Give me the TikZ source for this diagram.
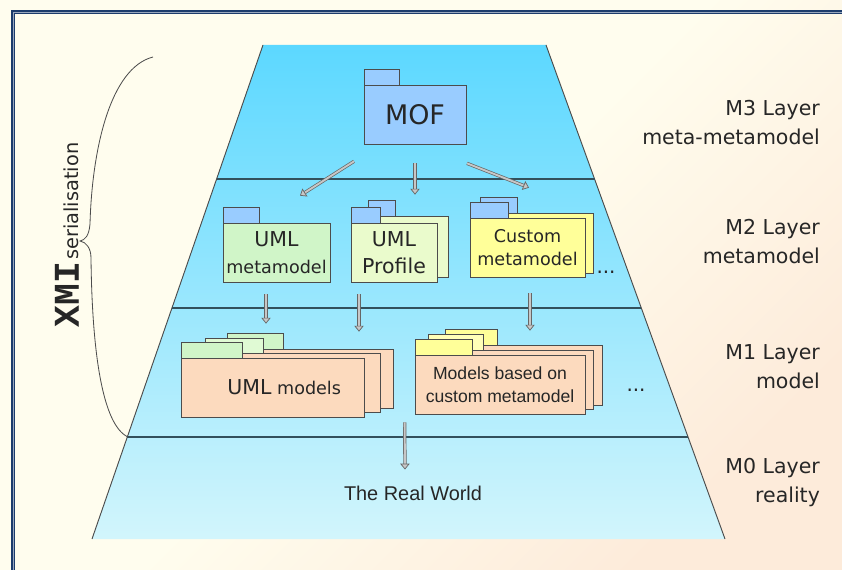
\documentclass[tikz,border=0pt]{standalone}
\usepackage{fontspec}
\setmainfont{DejaVu Sans}
\newfontfamily\arialfont{Liberation Sans}
\newfontfamily\xmifont{Liberation Mono}
\usetikzlibrary{calc, arrows.meta}

\definecolor{cream}{RGB}{255,253,238}
\definecolor{peach}{RGB}{253,235,218}
\definecolor{framenavy}{RGB}{28,60,108}
\definecolor{skytop}{RGB}{92,216,255}
\definecolor{skybot}{RGB}{210,245,252}
\definecolor{tabblue}{RGB}{153,204,255}
\definecolor{mmgreen}{RGB}{208,245,200}
\definecolor{lightgreen}{RGB}{224,250,212}
\definecolor{profgreen}{RGB}{234,251,204}
\definecolor{custyellow}{RGB}{255,255,153}
\definecolor{modpeach}{RGB}{252,218,190}
\definecolor{sepgray}{RGB}{50,80,92}

\tikzset{
	pkg/.style 2 args={draw=black!70, line width=0.6pt, minimum width=#1*0.03cm, minimum height=#2*0.03cm, inner sep=0pt, align=center, text=black!85},
	pkgtab/.style={draw=black!70, line width=0.6pt, fill=tabblue},
	sheet/.style={draw=black!70, line width=0.6pt},
	layername/.style={anchor=east, align=right, text=black!85, font=\fontsize{17.5}{24.7}\selectfont},
	flow/.style={draw=black!60, double=black!22, double distance=1.6pt, line width=0.6pt, -{Triangle[length=5pt, width=8pt, fill=black!22]}},
	edge/.style={draw=black!70, line width=0.8pt},
	sep/.style={draw=sepgray, line width=0.9pt}
}

\begin{document}
\begin{tikzpicture}[x=0.03cm, y=-0.03cm]
	\useasboundingbox (0,0) rectangle (842,570);
	\shade[top color=cream, bottom color=peach, middle color=cream, shading angle=45] (0,0) rectangle (842,570);
	
	% frame
	\draw[framenavy, line width=3.4pt] (13,570) -- (13,12) -- (842,12);
	\draw[framenavy!45, line width=0.6pt] (13,570) -- (13,12) -- (842,12);
	
	% pyramid of layers
	\coordinate (tl) at (263,45);
	\coordinate (tr) at (546,45);
	\coordinate (br) at (725,539);
	\coordinate (bl) at (92,539);
	\shade[top color=skytop, bottom color=skybot] (tl) -- (tr) -- (br) -- (bl) -- cycle;
	\draw[edge] (tl) -- (bl);
	\draw[edge] (tr) -- (br);
	\draw[sep] ($(tl)!0.2713!(bl)$) -- ($(tr)!0.2713!(br)$);
	\draw[sep] ($(tl)!0.5324!(bl)$) -- ($(tr)!0.5324!(br)$);
	\draw[sep] ($(tl)!0.7935!(bl)$) -- ($(tr)!0.7935!(br)$);
	
	% brace
	\draw[black!70, line width=0.7pt] (153,57) .. controls (110,68) and (92,150) .. (90,224) .. controls (89,236) and (85,240) .. (80,241) .. controls (86,242) and (91,248) .. (91,258) .. controls (92,350) and (102,425) .. (128,437);
	\node[rotate=90, text=black!85] (xmi) at (67,235) {{\xmifont\bfseries\fontsize{31}{33}\selectfont XMI}\hspace{2pt}{\fontsize{16.5}{20}\selectfont serialisation}};
	
	% M3
	\filldraw[pkgtab] (364,69) rectangle (399,85);
	\node[pkg={102}{59}, fill=tabblue, font=\fontsize{23}{26}\selectfont] (mof) at (415,114.5) {MOF};
	
	% M2
	\filldraw[pkgtab] (223,207) rectangle (259,223);
	\node[pkg={107}{59}, fill=mmgreen, font=\fontsize{15}{23}\selectfont] (umlmm) at (276.5,252.5) {{\fontsize{17.5}{23}\selectfont UML}\\metamodel};
	
	\filldraw[pkgtab] (368,200) rectangle (395,216);
	\filldraw[sheet, fill=profgreen] (362,216) rectangle (448,277);
	\filldraw[pkgtab] (351,207) rectangle (380,223);
	\node[pkg={86}{59}, fill=profgreen, font=\fontsize{17.5}{23}\selectfont] (umlprof) at (394,252.5) {UML\\Profile};
	
	\filldraw[pkgtab] (480,197) rectangle (517,213);
	\filldraw[sheet, fill=custyellow] (478,213) rectangle (593,273);
	\filldraw[pkgtab] (470,202) rectangle (508,218);
	\node[pkg={115}{59}, fill=custyellow, font=\fontsize{15}{20}\selectfont] (custmm) at (527.5,247.5) {Custom\\metamodel};
	\node[text=black!85, font=\fontsize{17}{20}\selectfont] (moremm) at (606,272) {...};
	
	% M1
	\filldraw[pkgtab, fill=mmgreen] (227,333) rectangle (283,349);
	\filldraw[sheet, fill=modpeach] (211,349) rectangle (393,408);
	\filldraw[pkgtab, fill=lightgreen] (205,338) rectangle (263,353);
	\filldraw[sheet, fill=modpeach] (196,353) rectangle (380,412);
	\filldraw[pkgtab, fill=mmgreen] (181,342) rectangle (242,358);
	\node[pkg={183}{59}, fill=modpeach, font=\fontsize{15}{20}\selectfont] (umlmod) at (272.5,387.5) {\hspace{20pt}{\fontsize{17.5}{20}\selectfont UML} models};
	
	\filldraw[pkgtab, fill=custyellow] (445,329) rectangle (497,345);
	\filldraw[sheet, fill=modpeach] (430,345) rectangle (602,405);
	\filldraw[pkgtab, fill=custyellow!70] (428,334) rectangle (483,350);
	\filldraw[sheet, fill=modpeach] (423,350) rectangle (593,409);
	\filldraw[pkgtab, fill=custyellow] (415,339) rectangle (472,355);
	\node[pkg={170}{59}, fill=modpeach, font=\arialfont\fontsize{15}{19.7}\selectfont] (custmod) at (500,384.5) {Models based on\\custom metamodel};
	\node[text=black!85, font=\fontsize{17}{20}\selectfont] (moremod) at (636,390) {...};
	
	% M0
	\node[text=black!85, font=\arialfont\fontsize{17}{20}\selectfont] (world) at (413,493) {The Real World};
	
	% arrows between layers
	\draw[flow] ($(mof.south)+(-61,17)$) -- ($(umlmm.north)+(23.5,-27)$);
	\draw[flow] ($(mof.south)+(0,19)$) -- ($(umlprof.north)+(21,-28)$);
	\draw[flow] ($(mof.south)+(52,19)$) -- ($(custmm.north)+(1.5,-30)$);
	\draw[flow] ($(umlmm.south)+(-10.5,12)$) -- ($(umlmod.north)+(-6.5,-34)$);
	\draw[flow] ($(umlprof.south)+(-35,12)$) -- ($(umlmod.north)+(86.5,-26)$);
	\draw[flow] ($(custmm.south)+(2.5,16)$) -- ($(custmod.north)+(30,-24)$);
	\draw[flow] ($(custmod.south west)+(-10,8)$) -- ($(world.north)+(-8,-12)$);
	
	% layer names
	\node[layername] (m3) at (824,122.5) {M3 Layer\\meta-metamodel};
	\node[layername] (m2) at (824,241.5) {M2 Layer\\metamodel};
	\node[layername] (m1) at (824,366.5) {M1 Layer\\model};
	\node[layername] (m0) at (824,482.5) {M0 Layer\\reality};
\end{tikzpicture}
\end{document}
